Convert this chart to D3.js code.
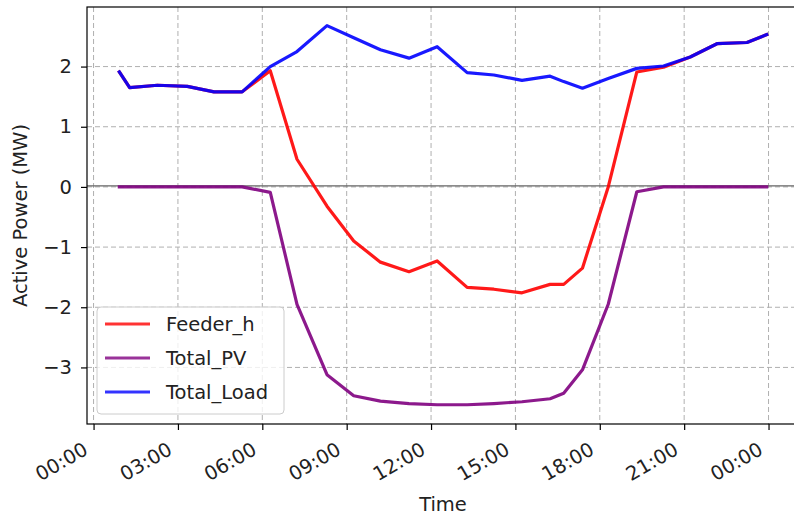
<!DOCTYPE html>
<head>
    <meta charset="utf-8">
    <script src="https://d3js.org/d3.v7.min.js"></script>
    <style>
        body {
            margin: 0;
            background: white;
        }
        text {
            font-family: "DejaVu Sans", sans-serif;
            fill: #222;
        }
    </style>
</head>

<body>
<svg id="graph" width=794 height=517></svg>
<script>

    // hourly samples (irregular minutes)
    const times = ["00:55", "01:17", "02:16", "03:20", "04:17", "05:17", "06:17", "07:14", "08:18",
        "09:15", "10:12", "11:13", "12:13", "13:17", "14:14", "15:14", "16:14", "16:43", "17:23",
        "18:18", "19:19", "20:16", "21:13", "22:10", "23:14", "23:56"];

    const feeder_h = [1.91, 1.65, 1.69, 1.67, 1.58, 1.58, 1.93, 0.46, -0.32, -0.90, -1.25, -1.41, -1.23,
        -1.67, -1.70, -1.76, -1.62, -1.62, -1.35, 0.00, 1.91, 1.99, 2.16, 2.38, 2.40, 2.53];

    const total_pv = [0, 0, 0, 0, 0, 0, -0.09, -1.95, -3.12, -3.47, -3.56, -3.60, -3.62,
        -3.62, -3.60, -3.57, -3.52, -3.43, -3.04, -1.95, -0.08, 0, 0, 0, 0, 0];

    const total_load = [1.91, 1.65, 1.69, 1.67, 1.58, 1.58, 2.00, 2.25, 2.68, 2.48, 2.28, 2.14, 2.33,
        1.90, 1.86, 1.77, 1.84, 1.75, 1.64, 1.80, 1.97, 2.01, 2.16, 2.38, 2.40, 2.53];

    const yTicks = [-3, -2, -1, 0, 1, 2];

    const seriesNames = ["Feeder_h", "Total_PV", "Total_Load"];
    const seriesColors = ["#ff0000", "#800080", "#0000ff"];

    const plot = {left: 87, right: 799, top: 7, bottom: 424};
    const fontSize = "19.5px";

    let svg = d3.select("#graph");

    let parseTime = d3.timeParse("%H:%M");
    let dates = times.map(parseTime);
    let dayStart = parseTime("00:00");

    let x = d3.scaleTime()
        .domain([d3.timeMinute.offset(dayStart, -14), d3.timeMinute.offset(dayStart, 25 * 60 + 5)])
        .range([plot.left, plot.right]);

    let y = d3.scaleLinear()
        .domain([-3.94, 2.99])
        .range([plot.bottom, plot.top]);

    svg.append("clipPath").attr("id", "clip")
        .append("rect")
        .attr("x", plot.left)
        .attr("y", plot.top)
        .attr("width", plot.right - plot.left)
        .attr("height", plot.bottom - plot.top);

    let xTickValues = d3.timeHour.every(3).range(dayStart, d3.timeMinute.offset(dayStart, 24 * 60 + 1));

    // grid
    let grid = svg.append("g").attr("clip-path", "url(#clip)");
    grid.selectAll(".vgrid").data(xTickValues).enter()
        .append("line")
        .attr("x1", function (d) { return x(d) })
        .attr("x2", function (d) { return x(d) })
        .attr("y1", plot.top)
        .attr("y2", plot.bottom)
        .style("stroke", "#b0b0b0")
        .style("stroke-width", 1)
        .style("stroke-dasharray", "5,3");
    grid.selectAll(".hgrid").data(yTicks).enter()
        .append("line")
        .attr("x1", plot.left)
        .attr("x2", plot.right)
        .attr("y1", function (d) { return y(d) })
        .attr("y2", function (d) { return y(d) })
        .style("stroke", "#b0b0b0")
        .style("stroke-width", 1)
        .style("stroke-dasharray", "5,3");

    // zero line
    svg.append("line")
        .attr("x1", plot.left)
        .attr("x2", plot.right)
        .attr("y1", y(0) - 1)
        .attr("y2", y(0) - 1)
        .style("stroke", "#666")
        .style("stroke-width", 1.2);

    let line = d3.line()
        .x(function (d) { return x(d.t) })
        .y(function (d) { return y(d.v) });

    let seriesData = [feeder_h, total_pv, total_load].map(function (vals) {
        return vals.map(function (v, i) { return {t: dates[i], v: v} });
    });

    svg.append("g").attr("clip-path", "url(#clip)")
        .selectAll("path").data(seriesData).enter()
        .append("path")
        .attr("d", line)
        .style("fill", "none")
        .style("stroke", function (d, i) { return seriesColors[i] })
        .style("stroke-width", 3.2)
        .style("stroke-opacity", 0.9)
        .style("stroke-linejoin", "round")
        .style("stroke-linecap", "square");

    // axes
    let xAxis = d3.axisBottom(x)
        .tickValues(xTickValues)
        .tickFormat(d3.timeFormat("%H:%M"))
        .tickSize(6)
        .tickPadding(0);

    let gx = svg.append("g")
        .attr("transform", "translate(0," + plot.bottom + ")")
        .call(xAxis);
    gx.select(".domain").remove();
    gx.selectAll(".tick line").style("stroke", "#000").style("stroke-width", 1.2);
    gx.selectAll(".tick text")
        .attr("text-anchor", "end")
        .attr("x", 0)
        .attr("y", 0)
        .attr("dy", "0.73em")
        .attr("transform", "translate(-12,17) rotate(-30)")
        .style("font-size", fontSize)
        .style("fill", "#222");

    let yAxis = d3.axisLeft(y)
        .tickValues(yTicks)
        .tickFormat(d3.format("d"))
        .tickSize(6)
        .tickPadding(9);

    let gy = svg.append("g")
        .attr("transform", "translate(" + plot.left + ",0)")
        .call(yAxis);
    gy.select(".domain").remove();
    gy.selectAll(".tick line").style("stroke", "#000").style("stroke-width", 1.2);
    gy.selectAll(".tick text")
        .style("font-size", fontSize)
        .style("font-family", "DejaVu Sans")
        .style("fill", "#222");

    // spines (right one sits just outside the picture)
    svg.append("rect")
        .attr("x", plot.left)
        .attr("y", plot.top)
        .attr("width", plot.right - plot.left)
        .attr("height", plot.bottom - plot.top)
        .style("fill", "none")
        .style("stroke", "#000")
        .style("stroke-width", 1.2);

    svg.append("text")
        .attr("x", (plot.left + plot.right) / 2)
        .attr("y", 511)
        .style("text-anchor", "middle")
        .style("font-size", fontSize)
        .text("Time");

    svg.append("text")
        .attr("x", -(plot.top + plot.bottom) / 2)
        .attr("y", 27)
        .attr("transform", "rotate(-90)")
        .style("text-anchor", "middle")
        .style("font-size", fontSize)
        .text("Active Power (MW)");

    // legend
    let legend = svg.append("g").attr("transform", "translate(97,307)");
    legend.append("rect")
        .attr("width", 187)
        .attr("height", 107)
        .attr("rx", 4)
        .style("fill", "white")
        .style("fill-opacity", 0.8)
        .style("stroke", "#cccccc")
        .style("stroke-width", 1);

    legend.selectAll("legendlines").data(seriesNames).enter()
        .append("line")
        .attr("x1", 8)
        .attr("x2", 53)
        .attr("y1", function (d, i) { return 17 + i * 34 })
        .attr("y2", function (d, i) { return 17 + i * 34 })
        .style("stroke", function (d, i) { return seriesColors[i] })
        .style("stroke-width", 3.2)
        .style("stroke-opacity", 0.8);

    legend.selectAll("legendlabels").data(seriesNames).enter()
        .append("text")
        .attr("x", 69)
        .attr("y", function (d, i) { return 17 + i * 34 })
        .attr("dy", "0.35em")
        .style("font-size", fontSize)
        .text(function (d) { return d });

</script>

</body>
